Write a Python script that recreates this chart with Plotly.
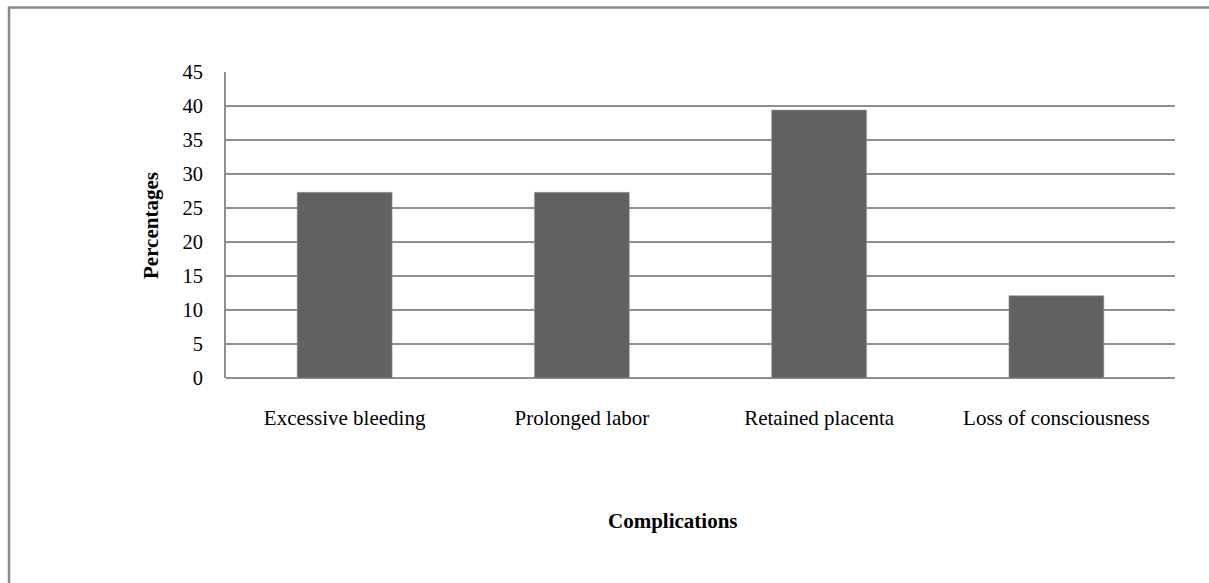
import plotly.graph_objects as go

# Reported complications (% of respondents)
categories = ["Excessive bleeding", "Prolonged labor", "Retained placenta", "Loss of consciousness"]
percentages = [27.3, 27.3, 39.4, 12.1]
y_ticks = [0, 5, 10, 15, 20, 25, 30, 35, 40, 45]

W, H = 1209, 583
ML, MR, MT, MB = 226, 34, 72, 205

serif = "Liberation Serif, Times New Roman, serif"
grid_col = "#8e8e8e"

fig = go.Figure(
    go.Bar(
        x=categories,
        y=percentages,
        marker=dict(color="#616161", line=dict(color="#9a9a9a", width=0.6)),
        width=0.4,
    )
)

fig.update_layout(
    width=W,
    height=H,
    margin=dict(l=ML, r=MR, t=MT, b=MB),
    paper_bgcolor="white",
    plot_bgcolor="white",
    font=dict(family=serif, size=20, color="black"),
    showlegend=False,
)

fig.update_xaxes(
    showgrid=False,
    showline=False,
    ticks="",
    ticklabelstandoff=25,
    tickfont=dict(family=serif, size=21, color="black"),
)

fig.update_yaxes(
    range=[0, 45],
    tickvals=y_ticks,
    showgrid=True,
    gridcolor=grid_col,
    gridwidth=1.6,
    zeroline=True,
    zerolinecolor=grid_col,
    zerolinewidth=1.6,
    showline=True,
    linecolor=grid_col,
    linewidth=1.6,
    ticks="",
    ticklabelstandoff=17,
    tickfont=dict(family=serif, size=20.5, color="black"),
)

pw, ph = W - ML - MR, H - MT - MB
def px_x(p):
    return (p - ML) / pw
def px_y(p):
    return (H - MB - p) / ph

# Axis titles
fig.add_annotation(
    text="<b>Complications</b>", xref="paper", yref="paper",
    x=px_x(672.5), y=px_y(521), showarrow=False,
    xanchor="center", yanchor="middle",
    font=dict(family=serif, size=21, color="black"),
)
fig.add_annotation(
    text="<b>Percentages</b>", xref="paper", yref="paper",
    x=px_x(151), y=px_y(226), textangle=-90, showarrow=False,
    xanchor="center", yanchor="middle",
    font=dict(family=serif, size=21, color="black"),
)

# Outer chart frame
fig.add_shape(
    type="rect", xref="paper", yref="paper",
    x0=px_x(9), x1=px_x(1215), y0=px_y(590), y1=px_y(7.5),
    line=dict(color="#8a8a8a", width=2.5), fillcolor="rgba(0,0,0,0)",
    layer="below",
)

fig.write_html("out.html")
